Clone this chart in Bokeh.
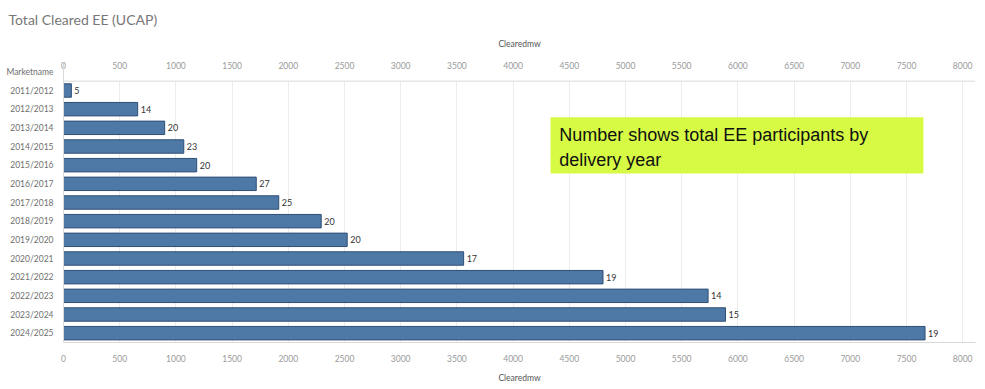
from bokeh.plotting import figure
from bokeh.models import (ColumnDataSource, FactorRange, Range1d, LinearAxis, Label,
                          BoxAnnotation, FixedTicker, LabelSet, Span, Title)
from bokeh.core.properties import value
from bokeh.embed import file_html
from bokeh.resources import INLINE

title_text = "Total Cleared EE (UCAP)"
row_header = "Marketname"
x_title = "Clearedmw"
years = ["2011/2012", "2012/2013", "2013/2014", "2014/2015", "2015/2016", "2016/2017",
         "2017/2018", "2018/2019", "2019/2020", "2020/2021", "2021/2022", "2022/2023",
         "2023/2024", "2024/2025"]
cleared_mw = [70, 660, 900, 1070, 1185, 1715, 1915, 2293, 2524, 3560, 4800, 5735, 5890, 7665]
participants = [5, 14, 20, 23, 20, 27, 25, 20, 20, 17, 19, 14, 15, 19]
x_ticks = list(range(0, 8001, 500))

src = ColumnDataSource(dict(year=years, mw=cleared_mw, n=[str(v) for v in participants]))

FONT = "Lato"
factors = list(reversed(years)) + [row_header]
p = figure(width=985, height=389, output_backend="svg", toolbar_location=None,
           y_range=FactorRange(factors=factors, range_padding=0),
           x_range=Range1d(0, 8114),
           x_axis_location=None, y_axis_location="left",
           min_border_left=63, min_border_right=10, min_border_top=62, min_border_bottom=47)
p.outline_line_color = None
p.background_fill_color = "white"

p.title = Title(text=title_text, align="left", offset=-55, standoff=16,
                text_font=FONT, text_font_size="14px", text_font_style="normal",
                text_color="#777777")

p.xgrid.ticker = FixedTicker(ticks=x_ticks)
p.xgrid.grid_line_color = "#ececec"
p.ygrid.grid_line_color = None

# cover gridlines in the header row
p.add_layout(BoxAnnotation(bottom=len(years), top=len(years) + 1, fill_color="white",
                           fill_alpha=1.0, line_color=None, level="underlay"))
p.add_layout(Span(location=len(years), dimension="width", line_color="#d9d9d9", line_width=1))

p.hbar(y="year", right="mw", left=0, height=0.72, source=src,
       fill_color="#4e79a7", line_color="#2f4f75", line_width=1)

labels = LabelSet(x="mw", y="year", text="n", source=src, x_offset=3,
                  text_baseline="middle", text_font_size="9px", text_color="#333333",
                  text_font=value(FONT))
p.add_layout(labels)

top = LinearAxis(ticker=FixedTicker(ticks=x_ticks), axis_label=x_title)
bot = LinearAxis(ticker=FixedTicker(ticks=x_ticks), axis_label=x_title)
for ax in (top, bot):
    ax.major_tick_line_color = None
    ax.minor_tick_line_color = None
    ax.major_label_text_font_size = "8.5px"
    ax.major_label_text_color = "#9a9a9a"
    ax.major_label_text_font = FONT
    ax.axis_label_text_font_size = "8.5px"
    ax.axis_label_text_font_style = "normal"
    ax.axis_label_text_color = "#555555"
    ax.axis_label_text_font = FONT
top.axis_line_color = None
top.major_label_standoff = -12
top.axis_label_standoff = 10
bot.axis_line_color = "#d9d9d9"
bot.major_label_standoff = 6
bot.axis_label_standoff = 8
p.add_layout(top, "above")
p.add_layout(bot, "below")

ya = p.yaxis[0]
ya.axis_line_color = "#d9d9d9"
ya.major_tick_line_color = None
ya.minor_tick_line_color = None
ya.major_label_text_font_size = "8.5px"
ya.major_label_text_color = "#6f6f6f"
ya.major_label_text_font = FONT
ya.major_label_standoff = 4

p.add_layout(BoxAnnotation(left=4333, right=7651, top=12.07, bottom=9.06,
                           fill_color="#d7fa45", fill_alpha=1.0, line_color=None))
p.add_layout(Label(x=4410, y=11.1, text="Number shows total EE participants by",
                   text_font="Liberation Sans", text_font_size="18px", text_color="#111111",
                   text_baseline="alphabetic"))
p.add_layout(Label(x=4410, y=9.8, text="delivery year",
                   text_font="Liberation Sans", text_font_size="18px", text_color="#111111",
                   text_baseline="alphabetic"))

open("out.html", "w").write(file_html(p, INLINE))
